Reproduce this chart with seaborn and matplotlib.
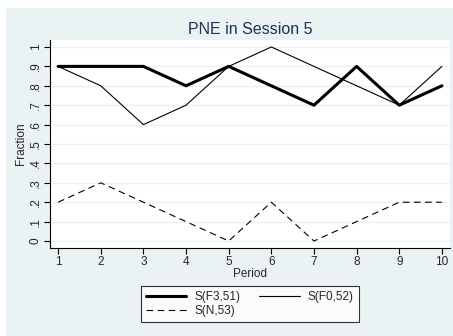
import pandas as pd
import seaborn as sns
import matplotlib.pyplot as plt
from matplotlib.patches import Rectangle

# data
periods = [1, 2, 3, 4, 5, 6, 7, 8, 9, 10]
s_f3_51 = [0.9, 0.9, 0.9, 0.8, 0.9, 0.8, 0.7, 0.9, 0.7, 0.8]
s_f0_52 = [0.9, 0.8, 0.6, 0.7, 0.9, 1.0, 0.9, 0.8, 0.7, 0.9]
s_n_53 = [0.2, 0.3, 0.2, 0.1, 0.0, 0.2, 0.0, 0.1, 0.2, 0.2]
y_ticks = [0, 0.1, 0.2, 0.3, 0.4, 0.5, 0.6, 0.7, 0.8, 0.9, 1.0]
y_labels = ['0', '.1', '.2', '.3', '.4', '.5', '.6', '.7', '.8', '.9', '1']

bg = '#EAF2F3'
sns.set_style('white')
plt.rcParams['font.family'] = ['Liberation Sans', 'DejaVu Sans']

fig = plt.figure(figsize=(4.53, 3.36), dpi=100, facecolor='white')
# stata-like outer region, offset from the top-left corner
fig.add_artist(Rectangle((6 / 453, 0), 1, 1 - 8 / 336, transform=fig.transFigure,
                         facecolor=bg, edgecolor='none', zorder=-10))
ax = fig.add_axes([50 / 453, 1 - 248 / 336, 400 / 453, 208 / 336])
ax.set_facecolor('white')

df = pd.DataFrame({'Period': periods, 'F3': s_f3_51, 'F0': s_f0_52, 'N': s_n_53})
sns.lineplot(data=df, x='Period', y='F3', ax=ax, color='black', linewidth=2.2, label='S(F3,51)')
sns.lineplot(data=df, x='Period', y='N', ax=ax, color='black', linewidth=0.8,
             linestyle=(0, (6, 4)), label='S(N,53)')
sns.lineplot(data=df, x='Period', y='F0', ax=ax, color='black', linewidth=0.8, label='S(F0,52)')

ax.set_xlim(0.81, 10.19)
ax.set_ylim(-0.036, 1.036)
ax.set_xticks(periods)
ax.set_yticks(y_ticks)
ax.set_yticklabels(y_labels, rotation=90, va='center')
ax.grid(axis='y', color=bg, linewidth=1.0)
ax.set_axisbelow(True)
for side in ['top', 'right']:
    ax.spines[side].set_visible(False)
for side in ['left', 'bottom']:
    ax.spines[side].set_color('black')
    ax.spines[side].set_linewidth(0.8)
ax.tick_params(axis='both', length=4, width=0.8, color='black', labelsize=8.5, pad=2, direction='out')
ax.tick_params(axis='x', bottom=True)
ax.tick_params(axis='y', left=True)
ax.set_xlabel('Period', fontsize=8.5, labelpad=0)
ax.set_ylabel('Fraction', fontsize=8.5, labelpad=2)
ax.set_title('PNE in Session 5', fontsize=11.5, color='#1C3550', pad=4)

leg = ax.legend(ncol=2, loc='center', bbox_to_anchor=(250 / 453, 1 - 304 / 336),
                bbox_transform=fig.transFigure, fontsize=8.5, frameon=True, fancybox=False,
                handlelength=3.4, columnspacing=1.6, borderpad=0.4, labelspacing=0.2,
                handletextpad=0.7)
leg.get_frame().set_edgecolor('black')
leg.get_frame().set_linewidth(0.8)
leg.get_frame().set_facecolor('white')

fig.savefig('out.png', dpi=100, facecolor=fig.get_facecolor())
